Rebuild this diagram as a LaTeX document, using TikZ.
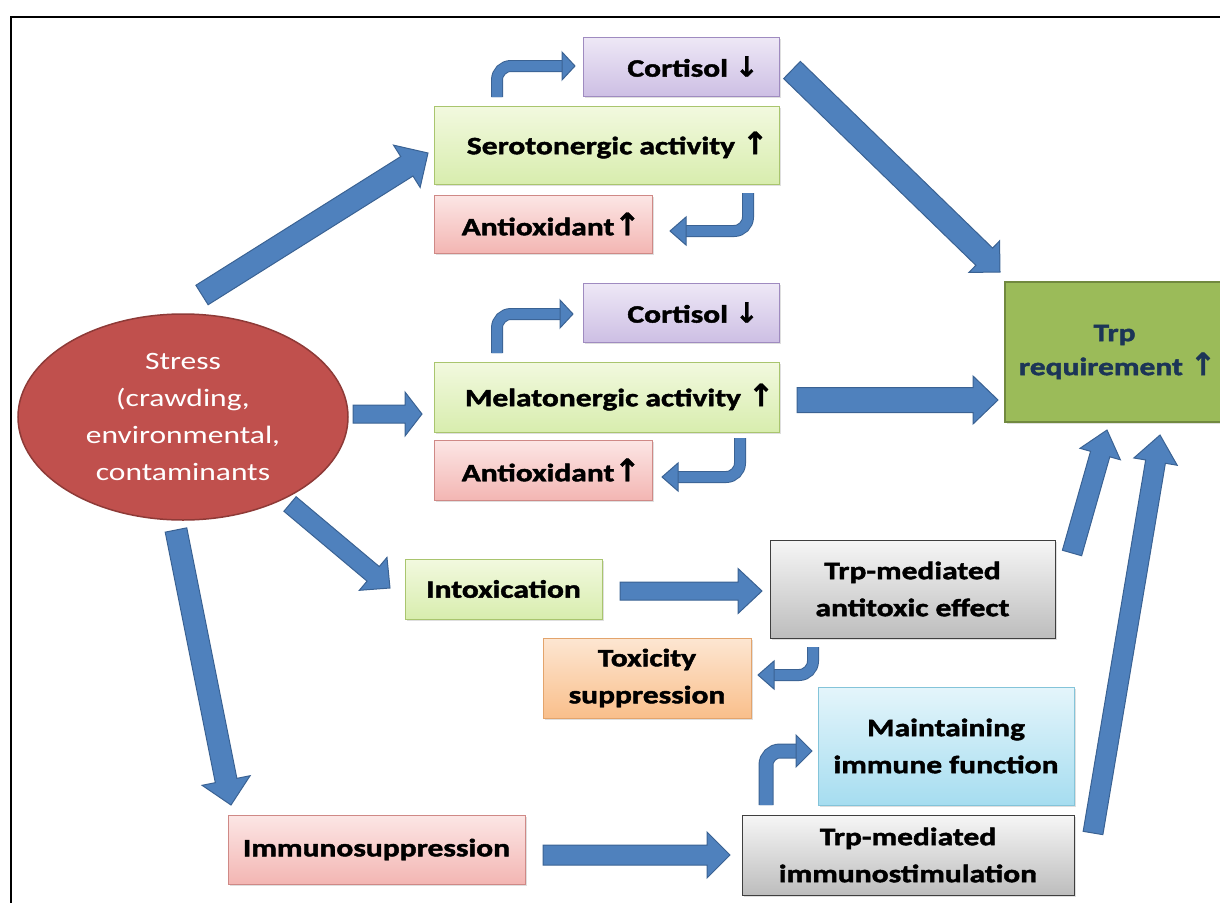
\documentclass[tikz,border=0pt]{standalone}
\usepackage{fontspec}
\setmainfont{Carlito}[FakeStretch=1.26, BoldFeatures={FakeBold=1.8}]
\newfontfamily\arrowfont{DejaVu Sans}[FakeBold=1.2]
\usetikzlibrary{calc,shadows,shapes.geometric}
\definecolor{arblue}{HTML}{4F81BD}
\definecolor{arbord}{HTML}{3A6293}
\definecolor{cortT}{HTML}{EEE8F6}\definecolor{cortB}{HTML}{CDBFE4}\definecolor{cortD}{HTML}{9F8BC0}
\definecolor{grnT}{HTML}{F2F9DF}\definecolor{grnB}{HTML}{D8EDAE}\definecolor{grnD}{HTML}{A9C56E}
\definecolor{pnkT}{HTML}{FCE6E5}\definecolor{pnkB}{HTML}{F3B6B3}\definecolor{pnkD}{HTML}{CF8986}
\definecolor{gryT}{HTML}{F6F6F6}\definecolor{gryB}{HTML}{BDBDBD}\definecolor{gryD}{HTML}{3F3F3F}
\definecolor{orgT}{HTML}{FDE6D2}\definecolor{orgB}{HTML}{F9BF8B}\definecolor{orgD}{HTML}{E3A46C}
\definecolor{bluT}{HTML}{E4F5FB}\definecolor{bluB}{HTML}{A6DDF0}\definecolor{bluD}{HTML}{84C4D9}
\definecolor{trpF}{HTML}{9BBB59}\definecolor{trpD}{HTML}{71893F}
\definecolor{trpText}{HTML}{1C3557}
\definecolor{strF}{HTML}{C0504D}\definecolor{strD}{HTML}{8E3A37}
\newcommand\uarr{{\arrowfont\fontsize{31pt}{31pt}\selectfont ↑}}
\newcommand\darr{{\arrowfont\fontsize{28pt}{28pt}\selectfont ↓}}
% straight block arrow: #1 tail, #2 tip, #3 shaft half width, #4 head half width, #5 head length
\newcommand\barrow[5]{%
  \coordinate (hb) at ($(#2)!#5pt!(#1)$);
  \draw[blockar] ($(#1)!#3pt!90:(#2)$) -- ($(hb)!#3pt!90:(#2)$) -- ($(hb)!#4pt!90:(#2)$)
    -- (#2) -- ($(hb)!#4pt!-90:(#2)$) -- ($(hb)!#3pt!-90:(#2)$) -- ($(#1)!#3pt!-90:(#2)$) -- cycle;
}
\tikzset{
  blockar/.style={fill=arblue, draw=arbord, line width=1pt, line join=miter},
  bshaft/.style={draw=arbord, line width=1pt, double=arblue, double distance=#1, rounded corners=14pt},
  bhead/.style={fill=arblue, draw=arbord, line width=1pt, line join=miter},
  bx/.style={rectangle, inner sep=0pt, line width=1pt, align=center,
    font=\fontsize{25pt}{37pt}\selectfont\bfseries,
    drop shadow={opacity=0.25, shadow xshift=2pt, shadow yshift=-2pt}},
  cortbox/.style={bx, draw=cortD, top color=cortT, bottom color=cortB},
  grnbox/.style={bx, draw=grnD, top color=grnT, bottom color=grnB},
  pnkbox/.style={bx, draw=pnkD, top color=pnkT, bottom color=pnkB},
  grybox/.style={bx, draw=gryD, top color=gryT, bottom color=gryB},
  orgbox/.style={bx, draw=orgD, top color=orgT, bottom color=orgB},
  blubox/.style={bx, draw=bluD, top color=bluT, bottom color=bluB},
  trpbox/.style={bx, draw=trpD, fill=trpF, line width=2pt, text=trpText, font=\fontsize{25pt}{34pt}\selectfont\bfseries},
  stressnode/.style={ellipse, draw=strD, fill=strF, line width=1.5pt, inner sep=0pt, text=white, align=center,
    font=\fontsize{25pt}{37pt}\selectfont},
}
\begin{document}
\begin{tikzpicture}[x=1pt,y=-1pt]
\useasboundingbox (0,0) rectangle (1220,902);
\clip (0,0) rectangle (1220,902);
\draw[line width=2pt] (11,17) rectangle (1240,930);

% nodes
\node[stressnode, minimum width=330pt, minimum height=206pt] (stress) at (183,417)
  {Stress\\(crawding,\\environmental,\\contaminants};
\node[cortbox, minimum width=196pt, minimum height=59pt] (cort1) at (681,66.5) {\hspace*{24pt}Cortisol \darr};
\node[grnbox, minimum width=345pt, minimum height=78pt] (sero) at (606.5,145) {\hspace*{22pt}Serotonergic activity \uarr};
\node[pnkbox, minimum width=218pt, minimum height=58pt] (anti1) at (543,224) {\hspace*{16pt}Antioxidant\uarr};
\node[cortbox, minimum width=196pt, minimum height=59pt] (cort2) at (681,312.5) {\hspace*{24pt}Cortisol \darr};
\node[grnbox, minimum width=345pt, minimum height=70pt] (mel) at (606.5,397) {\hspace*{26pt}Melatonergic activity \uarr};
\node[pnkbox, minimum width=218pt, minimum height=60pt] (anti2) at (543,470) {\hspace*{16pt}Antioxidant\uarr};
\node[trpbox, minimum width=219pt, minimum height=140pt] (trp) at (1114.5,352) {Trp\\\hspace*{6pt}requirement \uarr};
\node[grnbox, minimum width=197pt, minimum height=60pt] (intox) at (503.5,589) {Intoxication};
\node[grybox, minimum width=285pt, minimum height=98pt] (antitox) at (912.5,589) {Trp-mediated\\antitoxic effect};
\node[orgbox, minimum width=208pt, minimum height=80pt] (toxsup) at (647,678) {Toxicity\\suppression};
\node[blubox, minimum width=256pt, minimum height=118pt] (maint) at (946,746) {Maintaining\\immune function};
\node[pnkbox, minimum width=297pt, minimum height=69pt] (immsup) at (376.5,849.5) {Immunosuppression};
\node[grybox, minimum width=332pt, minimum height=80pt] (immstim) at (908,855) {Trp-mediated\\immunostimulation};

% arrow end points
\coordinate (a1s) at (202,295);  \coordinate (a1e) at (428,153);
\coordinate (a2s) at (353,414);  \coordinate (a2e) at (422,414);
\coordinate (a3s) at (290,504);  \coordinate (a3e) at (390,588);
\coordinate (a4s) at (176,530);  \coordinate (a4e) at (231,805);
\coordinate (a5s) at (792,70);   \coordinate (a5e) at (1000,272);
\coordinate (a6s) at (797,400);  \coordinate (a6e) at (998,400);
\coordinate (a7s) at (1072,553); \coordinate (a7e) at (1107,430);
\coordinate (a8s) at (1093,833); \coordinate (a8e) at (1160,435);
\coordinate (a9s) at (620,591);  \coordinate (a9e) at (762,591);
\coordinate (a10s) at (543,855); \coordinate (a10e) at (730,855);

\barrow{a1s}{a1e}{11.5}{25}{25}
\barrow{a2s}{a2e}{9}{22}{17}
\barrow{a3s}{a3e}{9.5}{21.5}{22}
\barrow{a4s}{a4e}{11}{24.5}{25}
\barrow{a5s}{a5e}{12}{22}{22}
\barrow{a6s}{a6e}{12.5}{24}{25}
\barrow{a7s}{a7e}{10}{21}{25}
\barrow{a8s}{a8e}{10}{22}{27}
\barrow{a9s}{a9e}{9}{22.5}{24}
\barrow{a10s}{a10e}{10}{23}{23}

% bent arrows
\coordinate (b1t) at (497,97);  \coordinate (b1p) at (575,66);
\draw[bshaft=10pt] (b1t) |- ($(b1p)+(-12,0)$);
\draw[bhead] ($(b1p)+(-13,-14)$) -- (b1p) -- ($(b1p)+(-13,14)$) -- cycle;

\coordinate (b2t) at (497,353); \coordinate (b2p) at (573,314);
\draw[bshaft=10pt] (b2t) |- ($(b2p)+(-12,0)$);
\draw[bhead] ($(b2p)+(-13,-14)$) -- (b2p) -- ($(b2p)+(-13,14)$) -- cycle;

\coordinate (h1t) at (748,193); \coordinate (h1p) at (670,231);
\draw[bshaft=10pt] (h1t) |- ($(h1p)+(14,0)$);
\draw[bhead] ($(h1p)+(16,-14)$) -- (h1p) -- ($(h1p)+(16,14)$) -- cycle;

\coordinate (h2t) at (740,438); \coordinate (h2p) at (662,477);
\draw[bshaft=10pt] (h2t) |- ($(h2p)+(14,0)$);
\draw[bhead] ($(h2p)+(16,-14)$) -- (h2p) -- ($(h2p)+(16,14)$) -- cycle;

\coordinate (h3t) at (813,647); \coordinate (h3p) at (758,675);
\draw[bshaft=10pt] (h3t) |- ($(h3p)+(14,0)$);
\draw[bhead] ($(h3p)+(16,-14)$) -- (h3p) -- ($(h3p)+(16,14)$) -- cycle;

\coordinate (b4t) at (766,805); \coordinate (b4p) at (812,751);
\draw[bshaft=13pt] (b4t) |- ($(b4p)+(-14,0)$);
\draw[bhead] ($(b4p)+(-16,-16)$) -- (b4p) -- ($(b4p)+(-16,16)$) -- cycle;
\end{tikzpicture}
\end{document}
